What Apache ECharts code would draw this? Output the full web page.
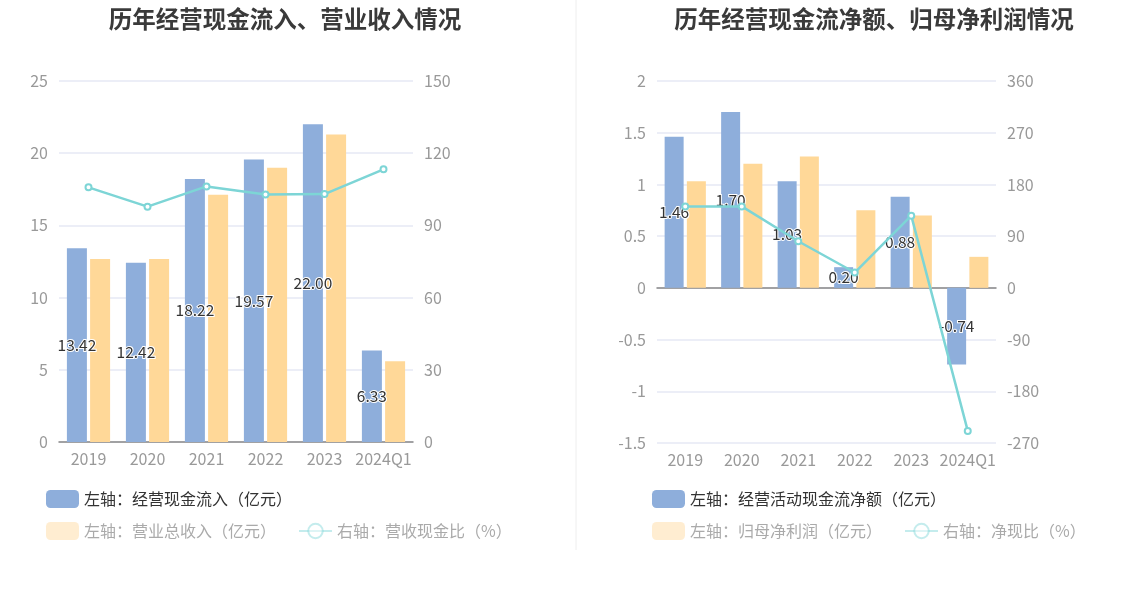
<!DOCTYPE html>
<html>
<head>
    <meta charset="utf-8">
    <title>经营现金流</title>
    <script src="https://cdn.jsdelivr.net/npm/echarts@6/dist/echarts.min.js"></script>
    <style>
        html, body { margin: 0; padding: 0; background: #fff; }
    </style>
</head>
<body>
    <div id="main" style="width: 1148px;height:589px;"></div>
    <script type="text/javascript">

    // categories
    var years = ['2019', '2020', '2021', '2022', '2023', '2024Q1'];

    // left chart
    var cashIn = [13.42, 12.42, 18.22, 19.57, 22.00, 6.33];
    var revenue = [12.67, 12.67, 17.13, 19.00, 21.30, 5.59];
    var cashRevRatio = [105.8, 97.8, 106.2, 102.8, 103.0, 113.3];

    // right chart
    var netCash = [1.46, 1.70, 1.03, 0.20, 0.88, -0.74];
    var netProfit = [1.03, 1.20, 1.27, 0.75, 0.70, 0.30];
    var netCashRatio = [141.7, 141.7, 81.1, 26.7, 125.7, -249.0];

    var blue = '#8eaedb';
    var orange = '#ffd898';
    var teal = '#7dd5d6';
    var font = 'Noto Sans CJK SC';

    var myChart = echarts.init(document.getElementById('main'));

    function barLabel() {
        return {
            show: true,
            position: 'inside',
            color: '#333',
            fontSize: 15.5,
            fontFamily: font,
            textBorderColor: '#fff',
            textBorderWidth: 2,
            formatter: function (p) { return p.value.toFixed(2); }
        };
    }

    function yAxisStyle(extra) {
        var a = {
            type: 'value',
            axisLine: { show: false },
            axisTick: { show: false },
            axisLabel: { color: '#999', fontSize: 16, fontFamily: font, margin: 11 },
            splitLine: { lineStyle: { color: '#e6e9f4', width: 1.5 } }
        };
        for (var k in extra) a[k] = extra[k];
        return a;
    }

    var faded = { color: '#aaa', fontSize: 16, fontFamily: font };
    var dark = { color: '#333', fontSize: 16, fontFamily: font };

    var option = {
        animation: false,
        textStyle: { fontFamily: font },
        title: [
            { text: '历年经营现金流入、营业收入情况', left: 280, top: 2, textAlign: 'center',
              textStyle: { fontSize: 23.5, fontWeight: 'bold', color: '#3a3a3a', fontFamily: font } },
            { text: '历年经营现金流净额、归母净利润情况', left: 869, top: 2, textAlign: 'center',
              textStyle: { fontSize: 23.5, fontWeight: 'bold', color: '#3a3a3a', fontFamily: font } }
        ],
        graphic: [
            { type: 'line', shape: { x1: 576, y1: 0, x2: 576, y2: 550 },
              style: { stroke: '#eeeeee', lineWidth: 1 } }
        ],
        legend: [
            { left: 41, top: 485, itemWidth: 33, itemHeight: 18, itemGap: 22,
              textStyle: dark,
              data: [{ name: '左轴：经营现金流入（亿元）' }] },
            { left: 41, top: 517, itemWidth: 33, itemHeight: 18, itemGap: 22,
              data: [
                { name: '左轴：营业总收入（亿元）', textStyle: faded, itemStyle: { opacity: 0.45 } },
                { name: '右轴：营收现金比（%）', textStyle: faded, itemStyle: { opacity: 0.45 }, lineStyle: { opacity: 0.45 } }
              ] },
            { left: 647, top: 485, itemWidth: 33, itemHeight: 18, itemGap: 22,
              textStyle: dark,
              data: [{ name: '左轴：经营活动现金流净额（亿元）' }] },
            { left: 647, top: 517, itemWidth: 33, itemHeight: 18, itemGap: 22,
              data: [
                { name: '左轴：归母净利润（亿元）', textStyle: faded, itemStyle: { opacity: 0.45 } },
                { name: '右轴：净现比（%）', textStyle: faded, itemStyle: { opacity: 0.45 }, lineStyle: { opacity: 0.45 } }
              ] }
        ],
        grid: [
            { left: 59, right: 735, top: 81, bottom: 147 },
            { left: 657, right: 152, top: 81, bottom: 146 }
        ],
        xAxis: [
            { type: 'category', gridIndex: 0, data: years,
              axisLine: { lineStyle: { color: '#888', width: 1.5 } },
              axisTick: { alignWithLabel: true, lineStyle: { color: '#888' } },
              axisLabel: { color: '#999', fontSize: 16, fontFamily: font, margin: 9, interval: 0 } },
            { type: 'category', gridIndex: 1, data: years,
              axisLine: { onZero: true, lineStyle: { color: '#888', width: 1.5 } },
              axisTick: { alignWithLabel: true, lineStyle: { color: '#888' } },
              axisLabel: { show: false } },
            { type: 'category', gridIndex: 1, data: years, position: 'bottom',
              axisLine: { show: false, onZero: false },
              axisTick: { show: false },
              axisLabel: { color: '#999', fontSize: 16, fontFamily: font, margin: 9, interval: 0 } }
        ],
        yAxis: [
            yAxisStyle({ gridIndex: 0, min: 0, max: 25, interval: 5 }),
            yAxisStyle({ gridIndex: 0, min: 0, max: 150, interval: 30, splitLine: { show: false } }),
            yAxisStyle({ gridIndex: 1, min: -1.5, max: 2, interval: 0.5 }),
            yAxisStyle({ gridIndex: 1, min: -270, max: 360, interval: 90, splitLine: { show: false } })
        ],
        series: [
            { name: '左轴：经营现金流入（亿元）', type: 'bar', xAxisIndex: 0, yAxisIndex: 0,
              data: cashIn, barWidth: 20, barGap: '16%', itemStyle: { color: blue },
              label: barLabel() },
            { name: '左轴：营业总收入（亿元）', type: 'bar', xAxisIndex: 0, yAxisIndex: 0,
              data: revenue, barWidth: 20, itemStyle: { color: orange } },
            { name: '右轴：营收现金比（%）', type: 'line', xAxisIndex: 0, yAxisIndex: 1,
              data: cashRevRatio, symbol: 'emptyCircle', symbolSize: 6,
              itemStyle: { color: teal, borderWidth: 2 },
              lineStyle: { color: teal, width: 2.5 }, z: 5 },

            { name: '左轴：经营活动现金流净额（亿元）', type: 'bar', xAxisIndex: 1, yAxisIndex: 2,
              data: netCash, barWidth: 19, barGap: '17%', itemStyle: { color: blue },
              label: barLabel() },
            { name: '左轴：归母净利润（亿元）', type: 'bar', xAxisIndex: 1, yAxisIndex: 2,
              data: netProfit, barWidth: 19, itemStyle: { color: orange } },
            { name: '右轴：净现比（%）', type: 'line', xAxisIndex: 1, yAxisIndex: 3,
              data: netCashRatio, symbol: 'emptyCircle', symbolSize: 6,
              itemStyle: { color: teal, borderWidth: 2 },
              lineStyle: { color: teal, width: 2.5 }, z: 5 }
        ]
    };

    myChart.setOption(option);

    </script>
</body>
</html>
